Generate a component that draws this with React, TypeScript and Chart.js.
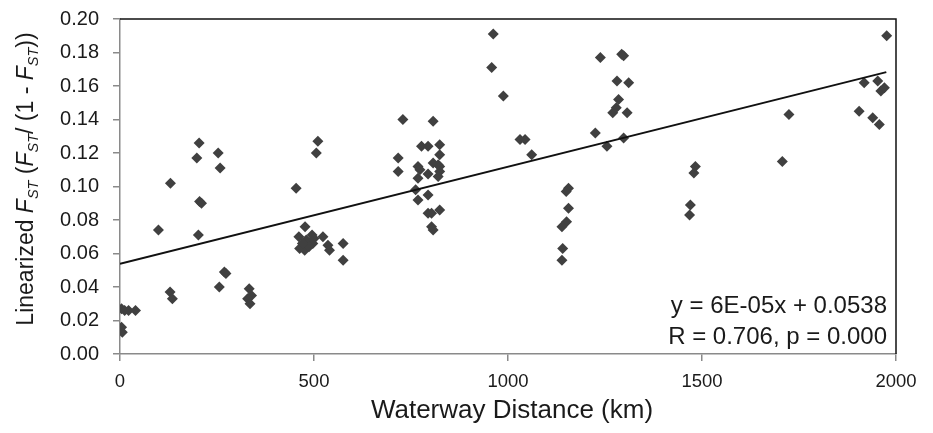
import React, { useEffect, useRef } from "react";
import { Chart, registerables } from "chart.js";

Chart.register(...registerables);

// Observed points: waterway distance (km) and linearized FST
const distanceKm: number[] = [
  4, 12, 22, 40, 4, 6,
  99, 130, 129, 135,
  198, 204, 205, 210, 202,
  253, 258, 256, 269, 273,
  333, 339, 329, 335,
  454, 477, 461, 480, 495, 497, 463, 476, 487, 470, 500,
  506, 510, 523, 536, 540, 575, 575,
  717, 717, 729,
  762, 768, 773, 768, 768, 777, 794, 794, 794, 794, 803, 803, 807, 807, 807, 820, 824, 824, 820, 824, 824, 824,
  958, 962, 988,
  1031, 1044, 1061,
  1156, 1150, 1156, 1151, 1139, 1141, 1139,
  1225, 1238, 1255, 1270, 1279, 1285, 1281, 1293, 1298, 1298, 1307, 1311,
  1468, 1470, 1479, 1483,
  1707, 1724,
  1905, 1918, 1940, 1953, 1957, 1961, 1970, 1976,
];

const linearizedFst: number[] = [
  0.027, 0.026, 0.026, 0.026, 0.016, 0.013,
  0.074, 0.102, 0.037, 0.033,
  0.117, 0.126, 0.091, 0.090, 0.071,
  0.120, 0.111, 0.040, 0.049, 0.048,
  0.039, 0.035, 0.033, 0.030,
  0.099, 0.076, 0.070, 0.068, 0.071, 0.066, 0.063, 0.062, 0.064, 0.066, 0.069,
  0.120, 0.127, 0.070, 0.065, 0.062, 0.066, 0.056,
  0.117, 0.109, 0.140,
  0.098, 0.112, 0.110, 0.105, 0.092, 0.124, 0.124, 0.1075, 0.095, 0.084, 0.084, 0.076, 0.074, 0.139, 0.114, 0.113, 0.112, 0.109, 0.106, 0.125, 0.119, 0.086,
  0.171, 0.191, 0.154,
  0.128, 0.128, 0.119,
  0.099, 0.097, 0.087, 0.079, 0.076, 0.063, 0.056,
  0.132, 0.177, 0.124, 0.144, 0.147, 0.152, 0.163, 0.179, 0.178, 0.129, 0.144, 0.162,
  0.083, 0.089, 0.108, 0.112,
  0.115, 0.143,
  0.145, 0.162, 0.141, 0.163, 0.137, 0.157, 0.159, 0.190,
];

// Regression line end points
const trendX: number[] = [0, 1975];
const trendY: number[] = [0.0538, 0.1683];

const xTicks: number[] = [0, 500, 1000, 1500, 2000];
const equationLines: string[] = ["y = 6E-05x + 0.0538", "R = 0.706, p = 0.000"];
const xTitle = "Waterway Distance (km)";

const FONT = "'Liberation Sans', Arial, sans-serif";
const TEXT = "#1a1a1a";

type Seg = { t: string; italic?: boolean; sub?: boolean };
const yTitleSegs: Seg[] = [
  { t: "Linearized " },
  { t: "F", italic: true },
  { t: "ST", italic: true, sub: true },
  { t: " (" },
  { t: "F", italic: true },
  { t: "ST", italic: true, sub: true },
  { t: "/ (1 - " },
  { t: "F", italic: true },
  { t: "ST", italic: true, sub: true },
  { t: "))" },
];

const decorPlugin = {
  id: "decor",
  afterDraw(chart: any) {
    const { ctx, chartArea } = chart;
    ctx.save();
    // top and right frame
    ctx.strokeStyle = "#111";
    ctx.lineWidth = 1.5;
    ctx.beginPath();
    ctx.moveTo(chartArea.left, chartArea.top);
    ctx.lineTo(chartArea.right, chartArea.top);
    ctx.lineTo(chartArea.right, chartArea.bottom);
    ctx.stroke();

    ctx.fillStyle = TEXT;
    // equation text
    ctx.font = `24px ${FONT}`;
    ctx.textAlign = "right";
    ctx.textBaseline = "alphabetic";
    ctx.fillText(equationLines[0], 887, 313);
    ctx.fillText(equationLines[1], 887, 344);

    // x title
    ctx.font = `26px ${FONT}`;
    ctx.textAlign = "center";
    ctx.fillText(xTitle, 512, 418);

    // y title (rich text, rotated)
    const mainSize = 23;
    const subSize = 14.5;
    const fontFor = (s: Seg) =>
      `${s.italic ? "italic " : ""}${s.sub ? subSize : mainSize}px ${FONT}`;
    let total = 0;
    const widths = yTitleSegs.map((s) => {
      ctx.font = fontFor(s);
      const w = ctx.measureText(s.t).width;
      total += w;
      return w;
    });
    ctx.translate(33, 179);
    ctx.rotate(-Math.PI / 2);
    ctx.textAlign = "left";
    let x = -total / 2;
    yTitleSegs.forEach((s, i) => {
      ctx.font = fontFor(s);
      ctx.fillText(s.t, x, s.sub ? 5 : 0);
      x += widths[i];
    });
    ctx.restore();
  },
};

export default function App() {
  const ref = useRef<HTMLCanvasElement | null>(null);

  useEffect(() => {
    if (!ref.current) return;
    const points = distanceKm.map((d, i) => ({ x: d, y: linearizedFst[i] }));
    const trend = trendX.map((d, i) => ({ x: d, y: trendY[i] }));
    const chart = new Chart(ref.current, {
      type: "scatter",
      data: {
        datasets: [
          {
            data: points,
            pointStyle: "rectRot",
            pointRadius: 5.5,
            backgroundColor: "#404040",
            borderColor: "#404040",
            borderWidth: 0,
            order: 2,
          },
          {
            type: "line",
            data: trend,
            showLine: true,
            borderColor: "#111",
            borderWidth: 2,
            pointRadius: 0,
            fill: false,
            order: 1,
          } as any,
        ],
      },
      options: {
        animation: false,
        responsive: false,
        events: [],
        layout: { padding: { top: 19, right: 37, left: 0, bottom: 0 } },
        plugins: { legend: { display: false }, tooltip: { enabled: false } },
        scales: {
          x: {
            type: "linear",
            min: 0,
            max: 2000,
            afterFit: (s: any) => {
              s.height = 79;
              s.paddingLeft = 0;
              s.paddingRight = 0;
            },
            afterBuildTicks: (s: any) => {
              s.ticks = xTicks.map((v) => ({ value: v }));
            },
            ticks: {
              color: TEXT,
              font: { family: FONT, size: 18.5 },
              padding: 10,
              maxRotation: 0,
              callback: (v: any) => String(v),
            },
            grid: { drawOnChartArea: false, tickLength: 7, color: "#8a8a8a", lineWidth: 1.5 },
            border: { color: "#8a8a8a", width: 1.5 },
          },
          y: {
            type: "linear",
            min: 0,
            max: 0.2,
            afterFit: (s: any) => {
              s.width = 120;
              s.paddingTop = 0;
              s.paddingBottom = 0;
            },
            ticks: {
              stepSize: 0.02,
              color: TEXT,
              font: { family: FONT, size: 20 },
              padding: 14,
              callback: (v: any) => Number(v).toFixed(2),
            },
            grid: { drawOnChartArea: false, tickLength: 7, color: "#8a8a8a", lineWidth: 1.5 },
            border: { color: "#8a8a8a", width: 1.5 },
          },
        },
      },
      plugins: [decorPlugin],
    });
    return () => chart.destroy();
  }, []);

  return (
    <div style={{ position: "fixed", left: 0, top: 0, width: 933, height: 433, background: "#fff" }}>
      <canvas ref={ref} width={933} height={433} style={{ display: "block" }} />
    </div>
  );
}
